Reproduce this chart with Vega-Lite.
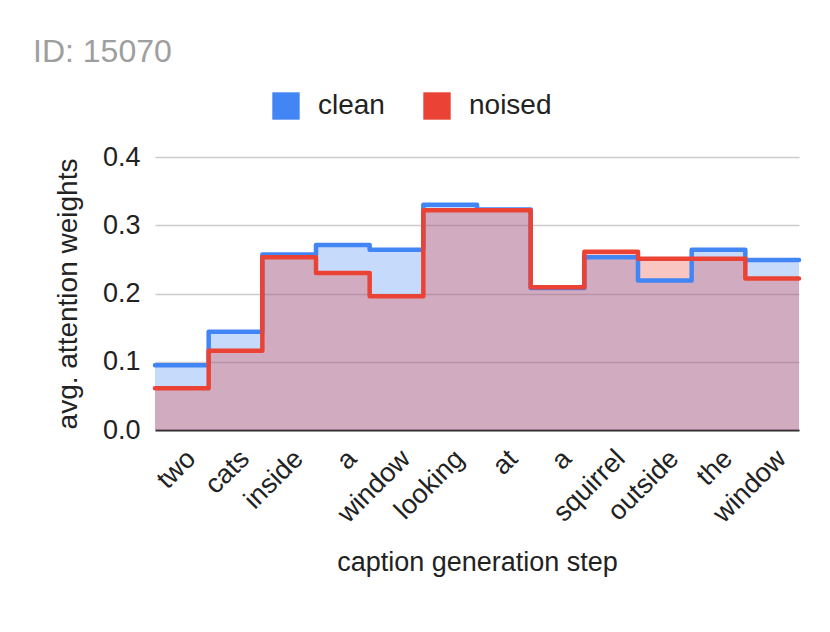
{
  "$schema": "https://vega.github.io/schema/vega-lite/v6.json",
  "width": 644,
  "height": 273,
  "autosize": {"type": "none"},
  "padding": {"left": 155, "top": 157, "right": 31, "bottom": 202},
  "background": "white",
  "config": {"font": "Liberation Sans", "view": {"stroke": null}},
  "title": {"text": "ID: 15070", "anchor": "start", "frame": "group", "color": "#9e9e9e", "fontSize": 32, "fontWeight": "normal", "font": "Liberation Sans", "dx": -122, "dy": -19},
  "data": {"values": [
    {"step": 0, "word": "two", "series": "clean", "value": 0.095},
    {"step": 1, "word": "cats", "series": "clean", "value": 0.144},
    {"step": 2, "word": "inside", "series": "clean", "value": 0.257},
    {"step": 3, "word": "a", "series": "clean", "value": 0.271},
    {"step": 4, "word": "window", "series": "clean", "value": 0.264},
    {"step": 5, "word": "looking", "series": "clean", "value": 0.330},
    {"step": 6, "word": "at", "series": "clean", "value": 0.323},
    {"step": 7, "word": "a", "series": "clean", "value": 0.208},
    {"step": 8, "word": "squirrel", "series": "clean", "value": 0.253},
    {"step": 9, "word": "outside", "series": "clean", "value": 0.219},
    {"step": 10, "word": "the", "series": "clean", "value": 0.264},
    {"step": 11, "word": "window", "series": "clean", "value": 0.249},
    {"step": 12, "word": "", "series": "clean", "value": 0.249},
    {"step": 0, "word": "two", "series": "noised", "value": 0.061},
    {"step": 1, "word": "cats", "series": "noised", "value": 0.116},
    {"step": 2, "word": "inside", "series": "noised", "value": 0.253},
    {"step": 3, "word": "a", "series": "noised", "value": 0.230},
    {"step": 4, "word": "window", "series": "noised", "value": 0.196},
    {"step": 5, "word": "looking", "series": "noised", "value": 0.322},
    {"step": 6, "word": "at", "series": "noised", "value": 0.322},
    {"step": 7, "word": "a", "series": "noised", "value": 0.209},
    {"step": 8, "word": "squirrel", "series": "noised", "value": 0.261},
    {"step": 9, "word": "outside", "series": "noised", "value": 0.251},
    {"step": 10, "word": "the", "series": "noised", "value": 0.251},
    {"step": 11, "word": "window", "series": "noised", "value": 0.222},
    {"step": 12, "word": "", "series": "noised", "value": 0.222}
  ]},
  "encoding": {
    "x": {
      "field": "step", "type": "quantitative",
      "scale": {"domain": [0, 12], "nice": false, "zero": false},
      "axis": {
        "values": [0.5, 1.5, 2.5, 3.5, 4.5, 5.5, 6.5, 7.5, 8.5, 9.5, 10.5, 11.5],
        "labelExpr": "['two','cats','inside','a','window','looking','at','a','squirrel','outside','the','window'][floor(datum.value)]",
        "labelAngle": -45,
        "labelFontSize": 27,
        "labelColor": "#222222",
        "labelPadding": 15,
        "labelOverlap": false,
        "grid": false,
        "ticks": false,
        "domainColor": "#333333",
        "domainWidth": 2,
        "title": "caption generation step",
        "titleFontSize": 27,
        "titleFontWeight": "normal",
        "titleColor": "#222222",
        "titlePadding": 22
      }
    },
    "y": {
      "field": "value", "type": "quantitative", "stack": null,
      "scale": {"domain": [0, 0.4], "nice": false},
      "axis": {
        "values": [0, 0.1, 0.2, 0.3, 0.4],
        "format": ".1f",
        "domain": false,
        "ticks": false,
        "labelFontSize": 27,
        "labelColor": "#222222",
        "labelPadding": 15,
        "gridColor": "#cccccc",
        "gridWidth": 1.5,
        "title": "avg. attention weights",
        "titleFontSize": 28,
        "titleFontWeight": "normal",
        "titleColor": "#222222",
        "titlePadding": 20
      }
    },
    "color": {
      "field": "series", "type": "nominal",
      "scale": {"domain": ["clean", "noised"], "range": ["#4285F4", "#EA4335"]},
      "legend": {
        "title": null,
        "orient": "none",
        "legendX": 117,
        "legendY": -65,
        "direction": "horizontal",
        "symbolType": "square",
        "symbolSize": 750,
        "symbolOpacity": 1,
        "symbolStrokeWidth": 0,
        "labelFontSize": 28,
        "labelColor": "#222222",
        "labelOffset": 18,
        "columnPadding": 38
      }
    }
  },
  "layer": [
    {"mark": {"type": "area", "interpolate": "step-after", "opacity": 0.3}},
    {"mark": {"type": "line", "interpolate": "step-after", "strokeWidth": 4.5, "strokeJoin": "round", "strokeCap": "round"}}
  ]
}
